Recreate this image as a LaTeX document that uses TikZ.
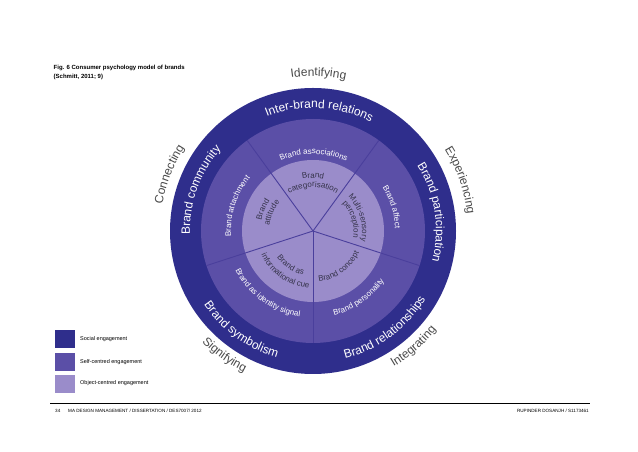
\documentclass[tikz,border=0pt]{standalone}
\usepackage{fontspec}
\setmainfont{Liberation Sans}
\usetikzlibrary{decorations.text}
\definecolor{cDark}{HTML}{2F2E8C}
\definecolor{cMid}{HTML}{5B4FA7}
\definecolor{cLight}{HTML}{9A8CCA}
\definecolor{cLine}{HTML}{4A3F9C}
\definecolor{cGray}{HTML}{4A4A4A}
\definecolor{cInner}{HTML}{35334A}
\newcommand\fOuter{\fontsize{12}{14}\selectfont\color{white}}
\newcommand\fOut{\fontsize{12}{14}\selectfont\color{cGray}}
\newcommand\fMid{\fontsize{8}{10}\selectfont\color{white}}
\newcommand\fIn{\fontsize{8}{10}\selectfont\color{cInner}}
\newcommand\cwtext[5]{\path[decorate,decoration={text along path,text align=center,text={|#4|#5}}] ({#1+#3}:#2pt) arc[start angle={#1+#3},end angle={#1-#3},radius=#2pt];}
\newcommand\ccwtext[5]{\path[decorate,decoration={text along path,text align=center,text={|#4|#5}}] ({#1-#3}:#2pt) arc[start angle={#1-#3},end angle={#1+#3},radius=#2pt];}
\tikzset{
  legbox/.style={fill=#1,minimum width=20pt,minimum height=18pt,inner sep=0pt,anchor=north west},
  legtext/.style={anchor=west,inner sep=0pt,font=\fontsize{5.5}{6.5}\selectfont},
  foot/.style={anchor=base west,inner sep=0pt,font=\fontsize{4.6}{5.5}\selectfont},
  divider/.style={draw=cLine,line width=0.9pt}
}
\begin{document}
\begin{tikzpicture}[x=1pt,y=1pt]
\useasboundingbox (0,0) rectangle (638,452);
\fill[white] (0,0) rectangle (638,452);
\coordinate (O) at (313,221);
% rings
\fill[cDark] (O) circle[radius=143pt];
\fill[cMid] (O) circle[radius=112pt];
\fill[cLight] (O) circle[radius=71pt];
% dividers
\foreach \a in {54,126,198,270,342}{
  \draw[divider] (O) -- ++(\a:112pt);
}
\begin{scope}[shift={(313,221)}]
% outer ring labels
\cwtext{87}{123}{70}{\fOuter}{Inter-brand relations}
\cwtext{160}{123}{70}{\fOuter}{Brand community}
\cwtext{9}{123}{70}{\fOuter}{Brand participation}
\ccwtext{234}{131.5}{70}{\fOuter}{Brand symbolism}
\ccwtext{306.5}{131.5}{70}{\fOuter}{Brand relationships}
% outside labels
\cwtext{88}{155}{50}{\fOut}{Identifying}
\cwtext{158.5}{153}{50}{\fOut}{Connecting}
\cwtext{19}{155}{50}{\fOut}{Experiencing}
\ccwtext{234.5}{157}{50}{\fOut}{Signifying}
\ccwtext{311}{158}{50}{\fOut}{Integrating}
% middle ring labels
\cwtext{89.5}{77}{60}{\fMid}{Brand associations}
\cwtext{162}{82}{60}{\fMid}{Brand attachment}
\cwtext{17}{82}{60}{\fMid}{Brand affect}
\ccwtext{234}{87}{60}{\fMid}{Brand as identity signal}
\ccwtext{304.5}{87}{60}{\fMid}{Brand personality}
% inner labels
\cwtext{90}{53}{50}{\fIn}{Brand}
\cwtext{90}{44}{60}{\fIn}{categorisation}
\cwtext{157}{52.5}{50}{\fIn}{Brand}
\cwtext{156}{44}{55}{\fIn}{attitude}
\cwtext{16}{49}{60}{\fIn}{Multi-sensory}
\cwtext{17}{40.5}{60}{\fIn}{perception}
\ccwtext{237}{45}{55}{\fIn}{Brand as}
\ccwtext{235.5}{57}{55}{\fIn}{informational cue}
\ccwtext{305.5}{51}{55}{\fIn}{Brand concept}
\end{scope}
% title
\node[anchor=base west,inner sep=0pt,font=\bfseries\fontsize{6}{7}\selectfont] (title1) at (53.5,382) {Fig. 6 Consumer psychology model of brands};
\node[anchor=base west,inner sep=0pt,font=\bfseries\fontsize{6}{7}\selectfont] (title2) at (53.5,373) {(Schmitt, 2011; 9)};
% legend
\node[legbox=cDark] (sq1) at (55,122) {};
\node[legbox=cMid] (sq2) at (55,99) {};
\node[legbox=cLight] (sq3) at (55,77) {};
\node[legtext] (lt1) at (80,113) {Social engagement};
\node[legtext] (lt2) at (80,90) {Self-centred engagement};
\node[legtext] (lt3) at (80,68.5) {Object-centred engagement};
% footer
\coordinate (fl) at (50,49);
\coordinate (fr) at (590,49);
\draw[line width=0.8pt] (fl) -- (fr);
\node[foot] (pg) at (55,39.5) {34};
\node[foot] (ftl) at (68,39.5) {MA DESIGN MANAGEMENT / DISSERTATION / DES7007/ 2012};
\node[foot,anchor=base east] (ftr) at (589,39.5) {RUPINDER DOSANJH / S1173461};
\end{tikzpicture}
\end{document}
